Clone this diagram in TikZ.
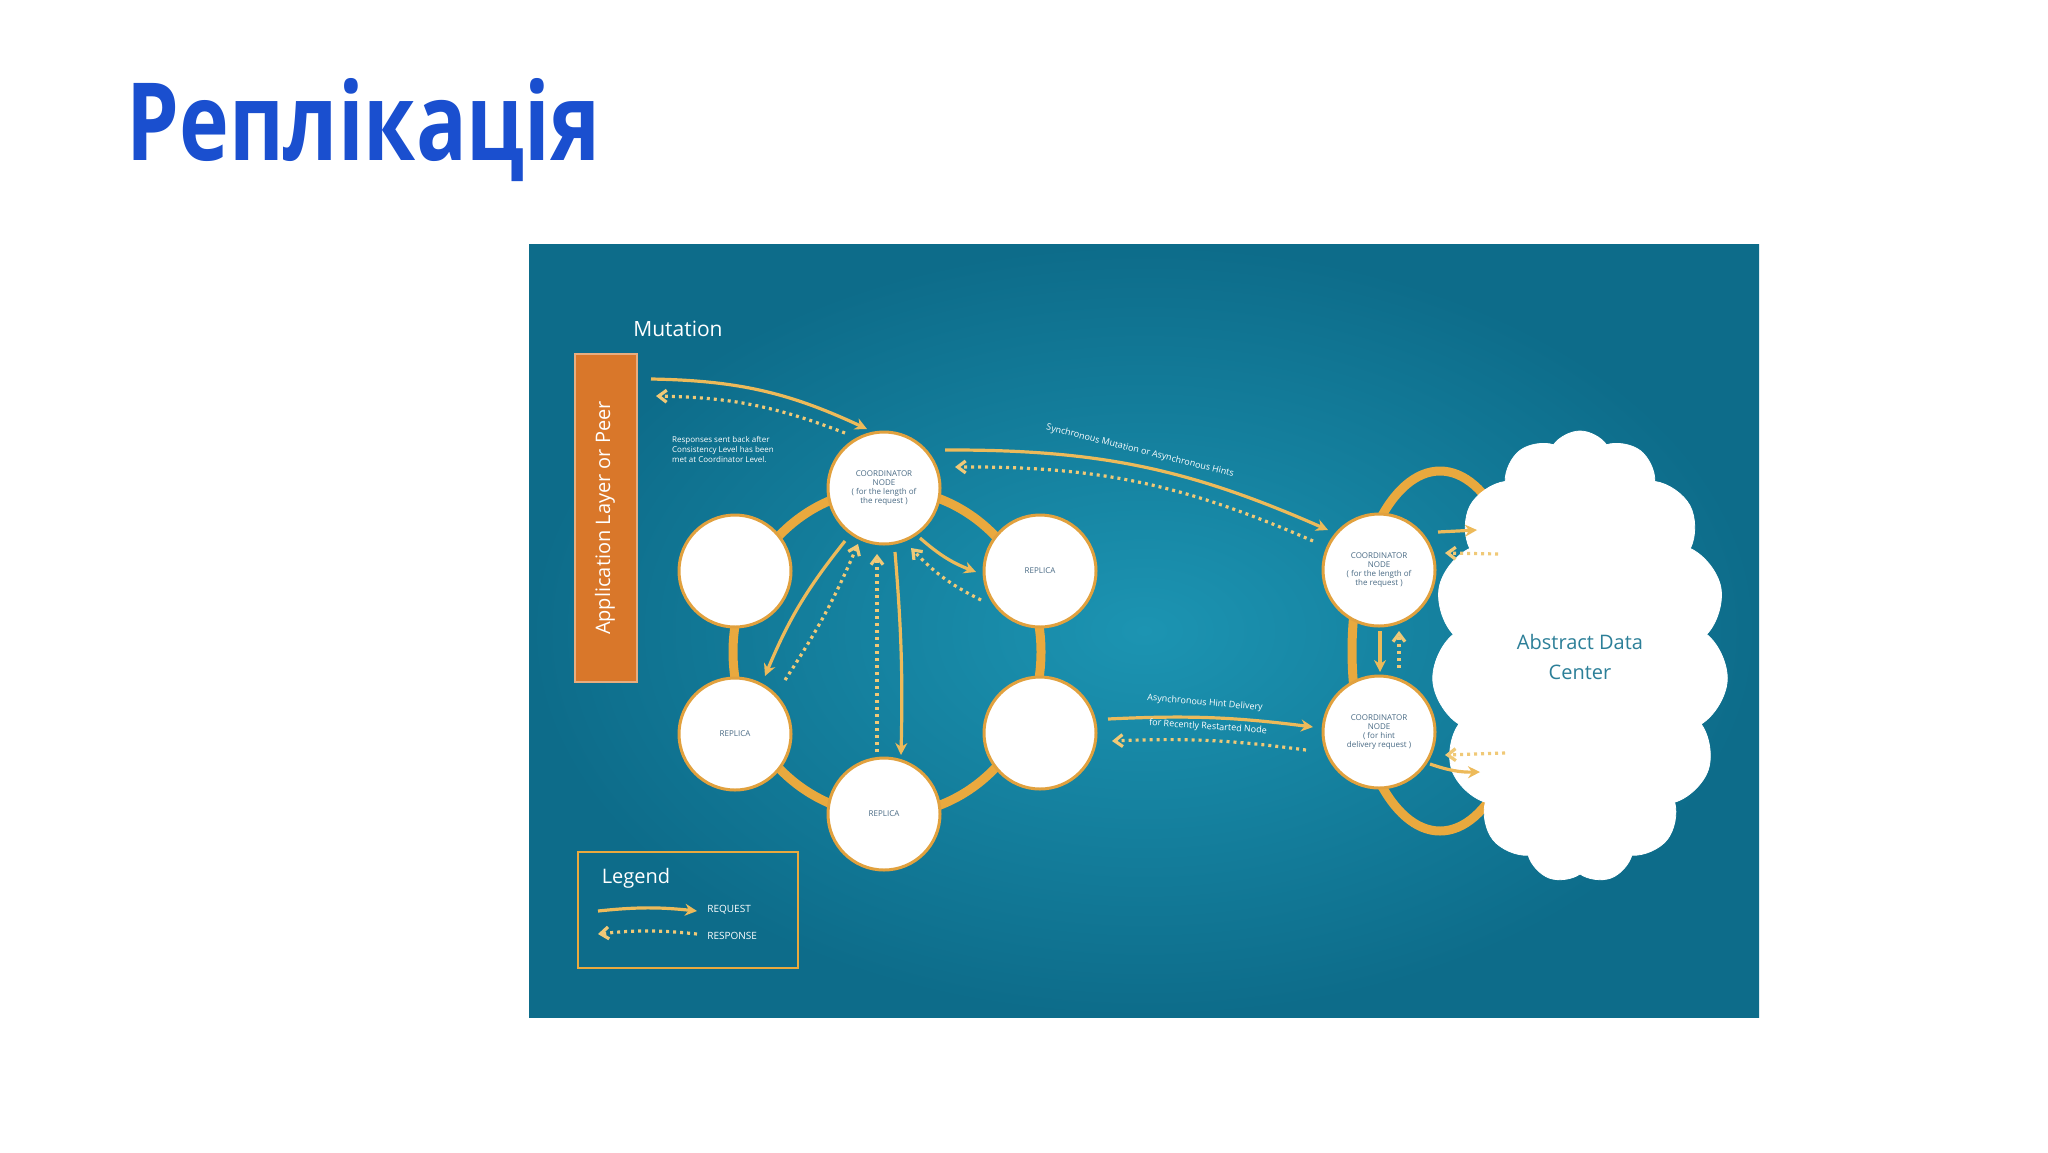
\documentclass[tikz,border=0pt]{standalone}
\usepackage{fontspec}
\setmainfont{Open Sans}
\usetikzlibrary{shapes.symbols,arrows.meta}
\definecolor{ttl}{HTML}{1A4FCF}
\definecolor{orng}{HTML}{E9A93E}
\definecolor{req}{HTML}{EDBA5A}
\definecolor{resp}{HTML}{F0C977}
\definecolor{appc}{HTML}{D9772A}
\definecolor{ntxt}{HTML}{4A6B85}
\definecolor{cldtxt}{HTML}{2C7F98}
\begin{document}
\begin{tikzpicture}[x=0.5pt,y=-0.5pt,
  nd/.style={circle,fill=white,draw=orng!80!brown,line width=1.5pt,minimum size=56pt,inner sep=0pt,align=center,text=ntxt,font=\fontsize{4}{4.6}\selectfont},
  rq/.style={draw=req,line width=1.6pt,-{Stealth[length=6pt,width=6pt]}},
  rs/.style={draw=resp,line width=1.6pt,dash pattern=on 1.5pt off 2pt,-{Straight Barb[length=4pt,width=6pt]}},
  ring/.style={draw=orng,line width=4.5pt},
  wt/.style={text=white,inner sep=0pt}]
\useasboundingbox (0,0) rectangle (2048,1152);
\fill[white] (0,0) rectangle (2048,1152);
\node[anchor=west,text=ttl,font=\fontsize{54}{60}\bfseries\selectfont,xscale=0.78,transform shape,inner sep=0pt] (title) at (126,130) {Реплікація};
\shade[inner color={rgb,255:red,28;green,148;blue,178},outer color={rgb,255:red,13;green,108;blue,138}] (529,244) rectangle (1759,1017);
\node[wt,font=\fontsize{10.5}{12}\selectfont] (mut) at (678,329) {Mutation};
\node[fill=appc,draw=appc!60!white,line width=1pt,minimum width=31pt,minimum height=164pt,inner sep=0pt] (app) at (606,518) {};
\node[wt,rotate=90,font=\fontsize{10}{12}\selectfont] (apptxt) at (605,518) {Application Layer or Peer};
% rings
\draw[ring] (887,652) ellipse [x radius=154, y radius=163];
\draw[ring] (1440,651) ellipse [x radius=88, y radius=180];
% nodes
\node[nd] (c1) at (884,488) {COORDINATOR\\NODE\\( for the length of\\the request )};
\node[nd] (l1) at (735,571) {};
\node[nd] (r1) at (1040,571) {REPLICA};
\node[nd] (l2) at (735,734) {REPLICA};
\node[nd] (r2) at (1040,733) {};
\node[nd] (b) at (884,814) {REPLICA};
% cloud
\node[cloud,cloud puffs=15,cloud puff arc=110,aspect=0.7,fill=white,draw=white,minimum width=148pt,minimum height=226pt,text=cldtxt,align=center,font=\fontsize{10}{15}\selectfont] (cloud) at (1580,657) {Abstract Data\\Center};
\node[nd] (c2) at (1379,570) {COORDINATOR\\NODE\\( for the length of\\the request )};
\node[nd] (c3) at (1379,732) {COORDINATOR\\NODE\\( for hint\\delivery request )};
% top arrows
\coordinate (a1) at (651,379); \coordinate (a2) at (867,429);
\coordinate (a3) at (845,433); \coordinate (a4) at (656,396);
\draw[rq] (a1) to[bend left=12] (a2);
\draw[rs] (a3) to[bend right=10] (a4);
\node[wt,align=left,font=\fontsize{4}{5}\selectfont] (resptxt) at (723,449) {Responses sent back after\\Consistency Level has been\\met at Coordinator Level.};
% sync
\coordinate (s1) at (945,450); \coordinate (s2) at (1328,530);
\coordinate (s3) at (1313,541); \coordinate (s4) at (955,467);
\draw[rq] (s1) to[bend left=12] (s2);
\draw[rs] (s3) to[bend right=12] (s4);
\node[wt,rotate=-14,font=\fontsize{4.5}{5}\selectfont] (synctxt) at (1140,451) {Synchronous Mutation or Asynchronous Hints};
% hint delivery
\coordinate (h1) at (1108,719); \coordinate (h2) at (1313,727);
\coordinate (h3) at (1306,750); \coordinate (h4) at (1112,741);
\draw[rq] (h1) to[bend left=5] (h2);
\draw[rs] (h3) to[bend right=5] (h4);
\node[wt,rotate=-5,font=\fontsize{4.5}{5}\selectfont] (hint1) at (1205,703) {Asynchronous Hint Delivery};
\node[wt,rotate=-4,font=\fontsize{4.5}{5}\selectfont] (hint2) at (1208,727) {for Recently Restarted Node};
% C2-C3
\coordinate (v1) at (1380,631); \coordinate (v2) at (1380,672);
\coordinate (v3) at (1399,668); \coordinate (v4) at (1399,631);
\draw[rq] (v1) -- (v2);
\draw[rs] (v3) -- (v4);
% cloud arrows
\coordinate (k1) at (1438,532); \coordinate (k2) at (1477,530);
\coordinate (k3) at (1498,554); \coordinate (k4) at (1445,553);
\coordinate (k5) at (1505,753); \coordinate (k6) at (1445,755);
\coordinate (k7) at (1430,764); \coordinate (k8) at (1480,772);
\draw[rq] (k1) -- (k2);
\draw[rs] (k3) -- (k4);
\draw[rs] (k5) -- (k6);
\draw[rq] (k7) to[bend right=10] (k8);
% inner arrows
\coordinate (i1) at (845,541); \coordinate (i2) at (765,676);
\coordinate (i3) at (785,680); \coordinate (i4) at (858,544);
\coordinate (i5) at (895,552); \coordinate (i6) at (901,755);
\coordinate (i7) at (877,752); \coordinate (i8) at (877,554);
\coordinate (i9) at (920,538); \coordinate (i10) at (976,572);
\coordinate (i11) at (981,600); \coordinate (i12) at (911,548);
\draw[rq] (i1) to[bend right=8] (i2);
\draw[rs] (i3) to[bend right=5] (i4);
\draw[rq] (i5) to[bend left=3] (i6);
\draw[rs] (i7) -- (i8);
\draw[rq] (i9) to[bend right=10] (i10);
\draw[rs] (i11) to[bend left=10] (i12);
% legend
\node[draw=orng,line width=1pt,minimum width=110pt,minimum height=58pt,inner sep=0pt] (leg) at (688,910) {};
\node[wt,font=\fontsize{10}{12}\selectfont] (legt) at (636,878) {Legend};
\coordinate (g1) at (598,911); \coordinate (g2) at (697,911);
\coordinate (g3) at (697,934); \coordinate (g4) at (598,934);
\draw[rq] (g1) to[bend left=6] (g2);
\draw[rs] (g3) to[bend right=6] (g4);
\node[wt,anchor=west,font=\fontsize{5}{6}\selectfont] (lreq) at (707,910) {REQUEST};
\node[wt,anchor=west,font=\fontsize{5}{6}\selectfont] (lresp) at (707,936) {RESPONSE};
\end{tikzpicture}
\end{document}
